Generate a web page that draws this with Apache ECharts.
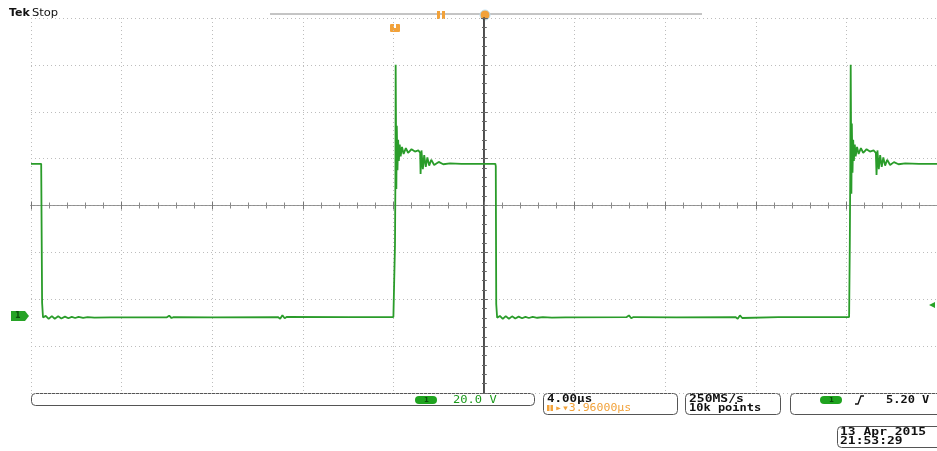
<!DOCTYPE html>
<html>
<head>
<meta charset="utf-8">
<script src="https://cdn.jsdelivr.net/npm/echarts@6/dist/echarts.min.js"></script>
<style>
html,body{margin:0;padding:0;background:#fff;}
#c{width:937px;height:451px;}
</style>
</head>
<body>
<div id="c"></div>
<script>
const timePerDiv = 4;          // µs/div
const voltsPerDiv = 20;        // V/div
const groundDiv = -2.35;       // channel 1 ground marker position (divisions from centre)
const timeTicks = [-20, 20];   // horizontal extent µs
const voltTicks = [-4, 4];     // vertical extent in divisions

// ---- waveform samples: time (µs) and voltage (V) ----
const timeUs = [
  -20.00, -19.55, -19.53, -19.51, -19.47,
  -19.35, -19.22, -19.08, -18.95, -18.80, -18.66, -18.50, -18.35, -18.20, -18.05,
  -17.90, -17.70, -17.50, -17.20, -16.50,
  -14.00, -13.90, -13.80, -13.70, -12.00,
  -9.10, -9.00, -8.90, -8.80, -8.70, -6.00, -4.00,
  -3.95, -3.93, -3.91, -3.90, -3.87, -3.85, -3.82, -3.79, -3.76, -3.72, -3.68, -3.62,
  -3.55, -3.45, -3.35, -3.20, -3.05, -2.90, -2.82,
  -2.80, -2.76, -2.70, -2.64, -2.57, -2.50, -2.42, -2.33, -2.20, -2.00, -1.80, -1.50,
  -1.00, 0.00, 0.50, 0.52, 0.54, 0.58,
  0.70, 0.83, 0.96, 1.10, 1.24, 1.38, 1.53, 1.68, 1.83, 1.98,
  2.15, 2.35, 2.60, 3.00, 3.60,
  6.30, 6.40, 6.50, 6.60, 8.50,
  11.10, 11.20, 11.30, 11.40, 13.00, 16.12,
  16.15, 16.17, 16.19, 16.22, 16.24, 16.27, 16.30, 16.33, 16.37, 16.41, 16.47,
  16.54, 16.64, 16.74, 16.89, 17.04, 17.20, 17.30,
  17.33, 17.37, 17.43, 17.49, 17.56, 17.63, 17.71, 17.80, 17.93, 18.10, 18.30, 18.60,
  19.20, 20.00
];
const volts = [
  64.8, 64.8, 64.0, 5.5, -0.8,
  -0.1, -1.4, -0.2, -1.3, -0.3, -1.2, -0.4, -1.1, -0.5, -1.0,
  -0.5, -0.9, -0.6, -0.8, -0.7,
  -0.7, 0.0, -1.0, -0.6, -0.7,
  -0.6, -1.3, 0.2, -1.1, -0.5, -0.6, -0.6,
  -0.5, 30.0, 60.0, 107.0, 54.0, 81.0, 62.0, 75.0, 66.0, 73.0, 68.0, 72.0,
  69.0, 71.5, 69.5, 71.0, 70.0, 70.5, 69.5,
  60.5, 70.5, 62.5, 68.5, 63.5, 67.5, 64.0, 66.5, 64.3, 65.6, 64.6, 65.0,
  64.8, 64.8, 64.8, 63.8, 5.0, -0.9,
  -0.1, -1.4, -0.2, -1.3, -0.3, -1.2, -0.4, -1.1, -0.5, -1.0,
  -0.5, -0.9, -0.6, -0.8, -0.7,
  -0.6, 0.1, -1.1, -0.6, -0.7,
  -0.6, -1.3, 0.1, -1.0, -0.6, -0.6,
  30.0, 60.0, 107.0, 52.0, 82.0, 61.0, 75.0, 66.0, 73.0, 68.0, 72.0,
  69.0, 71.5, 69.5, 71.0, 70.0, 70.5, 69.5,
  60.0, 70.5, 62.5, 68.5, 63.5, 67.5, 64.0, 66.5, 64.3, 65.5, 64.6, 65.0,
  64.8, 64.8
];

// ---- readout texts ----
const chScaleText = '20.0 V';
const timebaseText = '4.00µs';
const delayText = '▸▾3.96000µs';
const sampleRateText = '250MS/s';
const recordText = '10k points';
const triggerLevelText = '5.20 V';
const dateText = '13 Apr 2015';
const clockText = '21:53:29';

const seriesData = timeUs.map((t, i) => [t, volts[i] / voltsPerDiv + groundDiv]);

const chart = echarts.init(document.getElementById('c'), null, {renderer: 'canvas'});
const mono = "'DejaVu Sans Mono', monospace";
const GREEN = '#1c9a1c';
const ORANGE = '#f2a23a';

function hiddenX(extra) {
  return Object.assign({
    type: 'value', min: timeTicks[0], max: timeTicks[1], interval: timePerDiv,
    axisLabel: {show: false}, splitLine: {show: false}
  }, extra);
}
function hiddenY(extra) {
  return Object.assign({
    type: 'value', min: voltTicks[0], max: voltTicks[1], interval: 1,
    axisLabel: {show: false}, splitLine: {show: false}
  }, extra);
}
const dotted = {color: '#bdbdbd', width: 1, type: [1, 3]};

const option = {
  backgroundColor: '#ffffff',
  animation: false,
  grid: {left: 31, right: 0, top: 18, bottom: 58, containLabel: false},
  xAxis: [
    hiddenX({position: 'bottom',
      axisLine: {show: true, lineStyle: {color: '#777', width: 1}},
      axisTick: {show: true, inside: true, length: 4, lineStyle: {color: '#777'}},
      minorTick: {show: true, splitNumber: 5, length: 3, lineStyle: {color: '#888'}},
      splitLine: {show: true, lineStyle: dotted}}),
    hiddenX({position: 'top',
      axisLine: {show: true, lineStyle: {color: '#888', width: 1}},
      axisTick: {show: true, inside: true, length: 4, lineStyle: {color: '#777'}},
      minorTick: {show: true, splitNumber: 5, length: 3, lineStyle: {color: '#888'}}}),
    hiddenX({position: 'bottom', offset: -187.5,
      axisLine: {show: true, lineStyle: {color: '#999', width: 1, type: [2, 2]}},
      axisTick: {show: true, inside: true, length: 3, lineStyle: {color: '#777'}},
      minorTick: {show: true, splitNumber: 5, length: 2, lineStyle: {color: '#888'}}}),
    hiddenX({position: 'bottom', offset: -187.5,
      axisLine: {show: false},
      axisTick: {show: true, inside: false, length: 3, lineStyle: {color: '#777'}},
      minorTick: {show: true, splitNumber: 5, length: 2, lineStyle: {color: '#888'}}})
  ],
  yAxis: [
    hiddenY({position: 'left',
      axisLine: {show: true, lineStyle: {color: '#111', width: 1.5}},
      axisTick: {show: true, inside: true, length: 4, lineStyle: {color: '#777'}},
      minorTick: {show: true, splitNumber: 5, length: 3, lineStyle: {color: '#888'}},
      splitLine: {show: true, lineStyle: dotted}}),
    hiddenY({position: 'left', offset: -453,
      axisLine: {show: true, lineStyle: {color: '#555', width: 1}},
      axisTick: {show: true, inside: true, length: 3, lineStyle: {color: '#666'}},
      minorTick: {show: true, splitNumber: 5, length: 2, lineStyle: {color: '#666'}}}),
    hiddenY({position: 'left', offset: -453,
      axisLine: {show: false},
      axisTick: {show: true, inside: false, length: 3, lineStyle: {color: '#666'}},
      minorTick: {show: true, splitNumber: 5, length: 2, lineStyle: {color: '#666'}}})
  ],
  series: [{
    type: 'line', xAxisIndex: 0, yAxisIndex: 0,
    data: seriesData, showSymbol: false, smooth: false,
    lineStyle: {color: '#2a9c2a', width: 1.8},
    z: 5
  }],
  graphic: [
    // header
    {type: 'text', x: 9, y: 13, style: {text: 'Tek', font: "bold 11px 'DejaVu Sans'", fill: '#111', textVerticalAlign: 'middle'}},
    {type: 'text', x: 32, y: 13, scaleX: 1.15, style: {text: 'Stop', font: "10px 'DejaVu Sans'", fill: '#111', textVerticalAlign: 'middle'}},
    {type: 'line', shape: {x1: 270, y1: 14, x2: 702, y2: 14}, style: {stroke: '#8a8a8a', lineWidth: 1}},
    {type: 'rect', shape: {x: 437, y: 11, width: 3, height: 8}, style: {fill: ORANGE}},
    {type: 'rect', shape: {x: 442, y: 11, width: 3, height: 8}, style: {fill: ORANGE}},
    {type: 'circle', shape: {cx: 485, cy: 15, r: 5}, style: {fill: ORANGE, stroke: '#bfe3f5', lineWidth: 1}},
    {type: 'rect', shape: {x: 390, y: 24, width: 10, height: 8, r: 1}, style: {fill: ORANGE}},
    {type: 'rect', shape: {x: 394, y: 24, width: 2, height: 4}, style: {fill: '#fff'}},
    // ch1 ground marker
    {type: 'polygon', shape: {points: [[11, 311], [25, 311], [29, 316], [25, 321], [11, 321]]}, style: {fill: '#27a327'}},
    {type: 'text', x: 15, y: 316, style: {text: '1', font: "bold 8px 'DejaVu Sans'", fill: '#0c4f0c', textVerticalAlign: 'middle'}},
    // trigger level marker
    {type: 'polygon', shape: {points: [[929, 305], [935, 302], [935, 308]]}, style: {fill: '#27a327'}},
    // readout box 1
    {type: 'rect', shape: {x: 31.5, y: 393.5, width: 503, height: 12, r: 4}, style: {fill: 'none', stroke: '#555', lineWidth: 1}},
    {type: 'rect', shape: {x: 415, y: 396, width: 22, height: 8, r: 4}, style: {fill: '#1fa31f'}},
    {type: 'text', x: 424, y: 400, style: {text: '1', font: "bold 7px 'DejaVu Sans'", fill: '#0c4f0c', textVerticalAlign: 'middle'}},
    {type: 'text', x: 453, y: 400, scaleX: 1.1, style: {text: chScaleText, font: '11px ' + mono, fill: GREEN, textVerticalAlign: 'middle'}},
    // readout box 2
    {type: 'rect', shape: {x: 543.5, y: 393.5, width: 134, height: 21, r: 4}, style: {fill: 'none', stroke: '#555', lineWidth: 1}},
    {type: 'text', x: 547, y: 399, scaleX: 1.25, style: {text: timebaseText, font: 'bold 10px ' + mono, fill: '#111', textVerticalAlign: 'middle'}},
    {type: 'rect', shape: {x: 547, y: 405, width: 2.5, height: 6}, style: {fill: ORANGE}},
    {type: 'rect', shape: {x: 550.5, y: 405, width: 2.5, height: 6}, style: {fill: ORANGE}},
    {type: 'text', x: 555, y: 408.5, scaleX: 1.15, style: {text: delayText, font: '10px ' + mono, fill: ORANGE, textVerticalAlign: 'middle'}},
    // readout box 3
    {type: 'rect', shape: {x: 685.5, y: 393.5, width: 95, height: 21, r: 4}, style: {fill: 'none', stroke: '#555', lineWidth: 1}},
    {type: 'text', x: 689, y: 399, scaleX: 1.3, style: {text: sampleRateText, font: 'bold 10px ' + mono, fill: '#111', textVerticalAlign: 'middle'}},
    {type: 'text', x: 689, y: 408.5, scaleX: 1.2, style: {text: recordText, font: 'bold 10px ' + mono, fill: '#111', textVerticalAlign: 'middle'}},
    // readout box 4
    {type: 'rect', shape: {x: 790.5, y: 393.5, width: 160, height: 21, r: 4}, style: {fill: 'none', stroke: '#555', lineWidth: 1}},
    {type: 'rect', shape: {x: 820, y: 396, width: 22, height: 8, r: 4}, style: {fill: '#1fa31f'}},
    {type: 'text', x: 829, y: 400, style: {text: '1', font: "bold 7px 'DejaVu Sans'", fill: '#0c4f0c', textVerticalAlign: 'middle'}},
    {type: 'polyline', shape: {points: [[855, 404], [858, 404], [861, 396], [864, 396]]}, style: {stroke: '#111', lineWidth: 1.3, fill: 'none'}},
    {type: 'text', x: 886, y: 400, scaleX: 1.2, style: {text: triggerLevelText, font: 'bold 10px ' + mono, fill: '#111', textVerticalAlign: 'middle'}},
    // date box
    {type: 'rect', shape: {x: 837.5, y: 426.5, width: 110, height: 21, r: 4}, style: {fill: 'none', stroke: '#555', lineWidth: 1}},
    {type: 'text', x: 840, y: 432, scaleX: 1.3, style: {text: dateText, font: 'bold 10px ' + mono, fill: '#111', textVerticalAlign: 'middle'}},
    {type: 'text', x: 840, y: 441.5, scaleX: 1.3, style: {text: clockText, font: 'bold 10px ' + mono, fill: '#111', textVerticalAlign: 'middle'}}
  ]
};
chart.setOption(option);
</script>
</body>
</html>
